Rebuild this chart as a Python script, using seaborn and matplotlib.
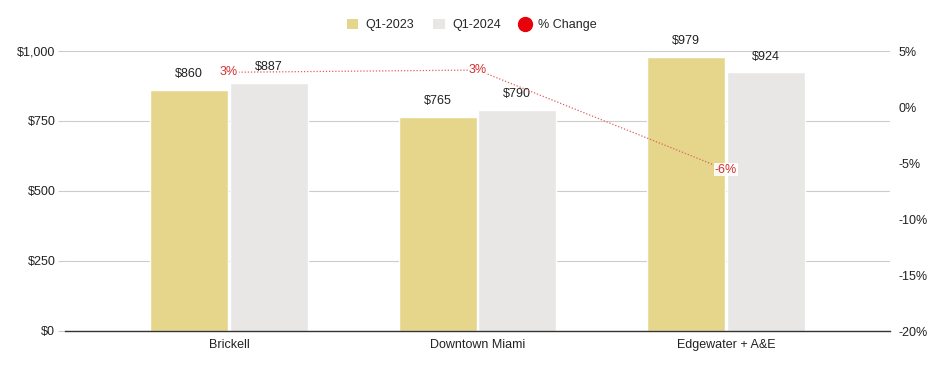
import matplotlib
matplotlib.use("Agg")
import matplotlib.pyplot as plt
import seaborn as sns
import pandas as pd
from matplotlib.ticker import FuncFormatter
from matplotlib.lines import Line2D
from matplotlib.patches import Patch

categories = ["Brickell", "Downtown Miami", "Edgewater + A&E"]
q1_2023 = [860, 765, 979]
q1_2024 = [887, 790, 924]
pct_change = [3.1, 3.3, -5.6]
pct_labels = ["3%", "3%", "-6%"]
series_names = ["Q1-2023", "Q1-2024"]

c23 = "#e5d68c"
c24 = "#e8e7e6"
red = "#e8000b"

sns.set_theme(style="white")
plt.rcParams['font.family'] = ['Liberation Sans', 'DejaVu Sans']

df = pd.DataFrame({
    "cat": categories * 2,
    "val": q1_2023 + q1_2024,
    "series": [series_names[0]] * 3 + [series_names[1]] * 3,
})

fig = plt.figure(figsize=(9.44, 3.71), dpi=100)
ax = fig.add_axes([65/944, 1 - 331/371, (890-65)/944, (331-51)/371])

sns.barplot(data=df, x="cat", y="val", hue="series", palette=[c23, c24],
            width=0.64, gap=0.02, ax=ax, legend=False, saturation=1)

ax.set_xlim(-0.66, 2.66)
ax.set_ylim(0, 1000)
ax.set_yticks([0, 250, 500, 750, 1000])
ax.yaxis.set_major_formatter(FuncFormatter(lambda v, p: f"${v:,.0f}"))
ax.set_xlabel("")
ax.set_ylabel("")
ax.grid(axis="y", color="#cccccc", linewidth=0.8)
ax.set_axisbelow(True)
for s in ["top", "right", "left"]:
    ax.spines[s].set_visible(False)
ax.spines["bottom"].set_color("#333333")
ax.spines["bottom"].set_linewidth(1)
ax.tick_params(axis="y", length=5, width=0.8, color="#cccccc", labelsize=9, labelcolor="#222222", pad=2)
ax.tick_params(axis="x", length=0, labelsize=9, labelcolor="#222222", pad=6)
ax.yaxis.get_major_ticks()[0].tick1line.set_color("#333333")

for cont in ax.containers:
    ax.bar_label(cont, labels=[f"${v:,.0f}" for v in cont.datavalues],
                 padding=7, fontsize=9, color="#222222")

ax2 = ax.twinx()
ax2.set_ylim(-20, 5)
ax2.set_yticks([-20, -15, -10, -5, 0, 5])
ax2.yaxis.set_major_formatter(FuncFormatter(lambda v, p: f"{v:.0f}%"))
for s in ax2.spines.values():
    s.set_visible(False)
ax2.tick_params(axis="y", length=0, labelsize=9, labelcolor="#222222", pad=6)
x_idx = list(range(len(categories)))
sns.lineplot(x=x_idx, y=pct_change, ax=ax2, color="#e06060", linewidth=0.9,
             linestyle=(0, (1, 1.5)), legend=False)
for xi, yv, lab in zip(x_idx, pct_change, pct_labels):
    ax2.text(xi, yv, lab, ha="center", va="center", fontsize=9, color="#d32f2f",
             bbox=dict(facecolor="white", edgecolor="none", pad=0.5, alpha=0.9))
ax2.set_xlim(-0.66, 2.66)

handles = [Patch(facecolor=c23, edgecolor="none"),
           Patch(facecolor=c24, edgecolor="none"),
           Line2D([0], [0], marker="o", color="none", markerfacecolor=red,
                  markeredgecolor=red, markersize=10)]
fig.legend(handles, series_names + ["% Change"], loc="center", bbox_to_anchor=(0.5, 1 - 25/371),
           ncol=3, frameon=False, fontsize=9, handlelength=0.9, handleheight=0.9,
           columnspacing=1.5, handletextpad=0.6)

fig.savefig("out.png", dpi=100)
